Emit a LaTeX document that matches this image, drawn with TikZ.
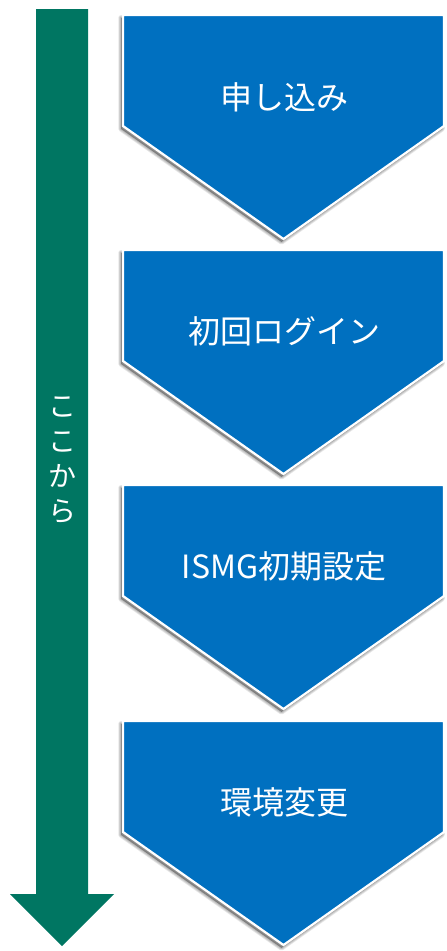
\documentclass[tikz,border=0pt]{standalone}
\usepackage{fontspec}
\setmainfont{Noto Sans CJK JP}
\definecolor{stepblue}{HTML}{0070C0}
\definecolor{flowgreen}{HTML}{007662}
\tikzset{
  chev/.style={fill=stepblue, draw=white, line width=2.2pt, line join=miter},
  chevshadow/.style={fill=black, draw=black, fill opacity=0.09, draw opacity=0.09, line join=round},
  chevtext/.style={text=white, font=\fontsize{32}{34}\selectfont, inner sep=0pt},
}
\newcommand{\chevpath}[1]{(123,#1) -- (444,#1) -- (444,#1+111) -- (283.5,#1+224) -- (123,#1+111) -- cycle}
\newcommand{\chevron}[1]{%
  \foreach \w in {1,2.5,4,5.5}{%
    \path[chevshadow, line width=\w pt, xshift=-2pt, yshift=-2.8pt] \chevpath{#1};
  }
  \path[chev] \chevpath{#1};
}
\begin{document}
\begin{tikzpicture}[x=1pt,y=-1pt]
\useasboundingbox (0,0) rectangle (447,951);
% green flow arrow
\fill[flowgreen] (36,9) -- (88,9) -- (88,894) -- (114,894) -- (62,946) -- (10,894) -- (36,894) -- cycle;
\node[text=white, font=\fontsize{28}{35}\selectfont, align=center, inner sep=0pt] (koko) at (62,460) {こ\\こ\\か\\ら};
% steps
\chevron{15}
\chevron{250}
\chevron{485}
\chevron{721}
\node[chevtext] (s1) at (284,97) {申し込み};
\node[chevtext] (s2) at (284,331) {初回ログイン};
\node[chevtext] (s3) at (284,566) {ISMG初期設定};
\node[chevtext] (s4) at (284,802) {環境変更};
\end{tikzpicture}
\end{document}
